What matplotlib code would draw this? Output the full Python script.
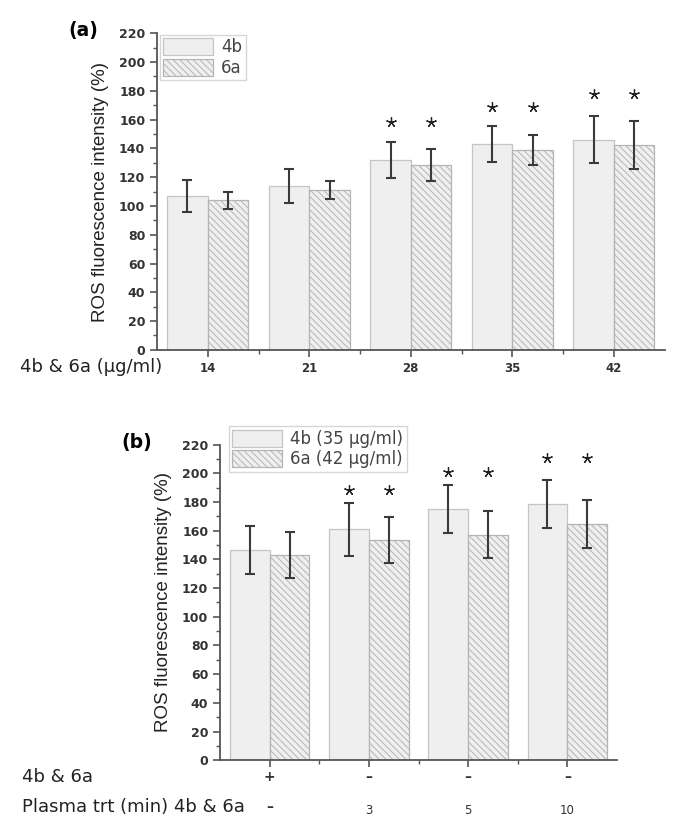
import matplotlib
matplotlib.use('Agg')
import matplotlib.pyplot as plt
import numpy as np
from matplotlib.ticker import MultipleLocator, FixedLocator

plt.rcParams['font.family'] = ['DejaVu Sans']
plt.rcParams['hatch.linewidth'] = 0.7

# panel (a): concentration series
conc_labels = ['14', '21', '28', '35', '42']
a_4b = [107, 114, 132, 143, 146]
a_4b_err = [11, 12, 12.5, 12.5, 16.5]
a_6a = [104, 111, 128.5, 139, 142.5]
a_6a_err = [6, 6, 11, 10.5, 16.5]
a_star_groups = [2, 3, 4]          # index of groups marked with *
a_star_y = [158, 168.5, 178]

# panel (b): plasma treatment series
plasma_row1 = ['+', '\u2013', '\u2013', '\u2013']
plasma_row2 = ['\u2013', '3', '5', '10']
b_4b = [146.5, 161, 175, 178.5]
b_4b_err = [16.5, 18.5, 16.5, 16.5]
b_6a = [143, 153.5, 157, 164.5]
b_6a_err = [16, 16.3, 16.4, 16.5]
b_star_groups = [1, 2, 3]
b_star_y = [188, 200.5, 210.5]

face = '#efefef'
edge = '#c4c4c4'
hatch_edge = '#b4b4b4'
err_col = '#3a3a3a'
axis_col = '#555555'
txt_col = '#333333'
w = 0.4

fig = plt.figure(figsize=(6.75, 8.31), dpi=100)
ax1 = fig.add_axes([0.2326, 0.579, 0.752, 0.381])
ax2 = fig.add_axes([0.326, 0.0851, 0.588, 0.380])


def draw_panel(ax, v4, e4, v6, e6, star_groups, star_y, lab4, lab6):
    x = np.arange(1, len(v4) + 1)
    ax.bar(x - w / 2, v4, w, color=face, edgecolor=edge, linewidth=0.9, label=lab4, zorder=2)
    ax.bar(x + w / 2, v6, w, color=face, edgecolor=hatch_edge, linewidth=0.9,
           hatch='\\\\\\\\\\', label=lab6, zorder=2)
    ax.errorbar(x - w / 2, v4, yerr=e4, fmt='none', ecolor=err_col, elinewidth=1.5,
                capsize=3.5, capthick=1.5, zorder=3)
    ax.errorbar(x + w / 2, v6, yerr=e6, fmt='none', ecolor=err_col, elinewidth=1.5,
                capsize=3.5, capthick=1.5, zorder=3)
    for g, sy in zip(star_groups, star_y):
        ax.plot([x[g] - w / 2, x[g] + w / 2], [sy, sy], ls='none', marker=(5, 2, 0),
                ms=7.5, mew=0.9, color='#222222', zorder=4)
    ax.set_ylim(0, 220)
    ax.set_xlim(0.5, len(v4) + 0.5)
    ax.yaxis.set_major_locator(MultipleLocator(20))
    ax.yaxis.set_minor_locator(MultipleLocator(10))
    ax.xaxis.set_major_locator(FixedLocator(x))
    ax.xaxis.set_minor_locator(FixedLocator(x[:-1] + 0.5))
    for s in ['top', 'right']:
        ax.spines[s].set_visible(False)
    for s in ['left', 'bottom']:
        ax.spines[s].set_color(axis_col)
        ax.spines[s].set_linewidth(1.3)
    ax.tick_params(axis='both', which='major', length=5, width=1.2, color=axis_col,
                   labelsize=9, labelcolor=txt_col)
    ax.tick_params(axis='both', which='minor', length=3, width=1.0, color=axis_col)
    for t in ax.get_yticklabels():
        t.set_fontweight('bold')
    ax.set_ylabel('ROS fluorescence intensity (%)', fontsize=13.5, color='#222222',
                  labelpad=7, family='Liberation Sans')
    return x


# ---- (a) ----
xa = draw_panel(ax1, a_4b, a_4b_err, a_6a, a_6a_err, a_star_groups, a_star_y, '4b', '6a')
ax1.set_xticklabels(conc_labels, fontweight='bold', fontsize=8.5)
ax1.tick_params(axis='x', pad=4)
ax1.text(-0.27, -0.054, '4b & 6a (\u00b5g/ml)', transform=ax1.transAxes, fontsize=13,
         ha='left', va='center', color='#222222')
ax1.text(-0.146, 1.008, '(a)', transform=ax1.transAxes, fontsize=13.5, fontweight='bold',
         ha='center', va='center')
leg1 = ax1.legend(loc='upper left', bbox_to_anchor=(0.005, 0.995), fontsize=12,
                  frameon=True, fancybox=False, edgecolor='#cccccc', handlelength=3.0,
                  handleheight=1.2, borderpad=0.2, labelspacing=0.15, handletextpad=0.5,
                  borderaxespad=0)
for t in leg1.get_texts():
    t.set_color('#444444')

# ---- (b) ----
xb = draw_panel(ax2, b_4b, b_4b_err, b_6a, b_6a_err, b_star_groups, b_star_y,
                '4b (35 \u00b5g/ml)', '6a (42 \u00b5g/ml)')
ax2.set_xticklabels([])
for i, (xi, l1, l2) in enumerate(zip(xb, plasma_row1, plasma_row2)):
    ax2.text(xi, -0.053, l1, transform=ax2.get_xaxis_transform(), ha='center', va='center',
             fontsize=10, fontweight='bold', color=txt_col)
    ax2.text(xi, -0.148 if i == 0 else -0.158, l2, transform=ax2.get_xaxis_transform(),
             ha='center', va='center', fontsize=10 if i == 0 else 8.5,
             fontweight='bold' if i == 0 else 'normal', color=txt_col)
trb = ax2.transAxes
ax2.text(-0.499, -0.053, '4b & 6a', transform=trb, fontsize=13, ha='left', va='center',
         color='#222222')
ax2.text(-0.499, -0.147, 'Plasma trt (min) 4b & 6a', transform=trb, fontsize=13,
         ha='left', va='center', color='#222222')
ax2.text(-0.209, 1.005, '(b)', transform=trb, fontsize=13.5, fontweight='bold',
         ha='center', va='center')
leg2 = ax2.legend(loc='upper left', bbox_to_anchor=(0.022, 1.058), fontsize=12,
                  frameon=True, fancybox=False, edgecolor='#cccccc', handlelength=3.0,
                  handleheight=1.2, borderpad=0.2, labelspacing=0.15, handletextpad=0.5,
                  borderaxespad=0)
for t in leg2.get_texts():
    t.set_color('#444444')

fig.savefig('out.png', dpi=100)
